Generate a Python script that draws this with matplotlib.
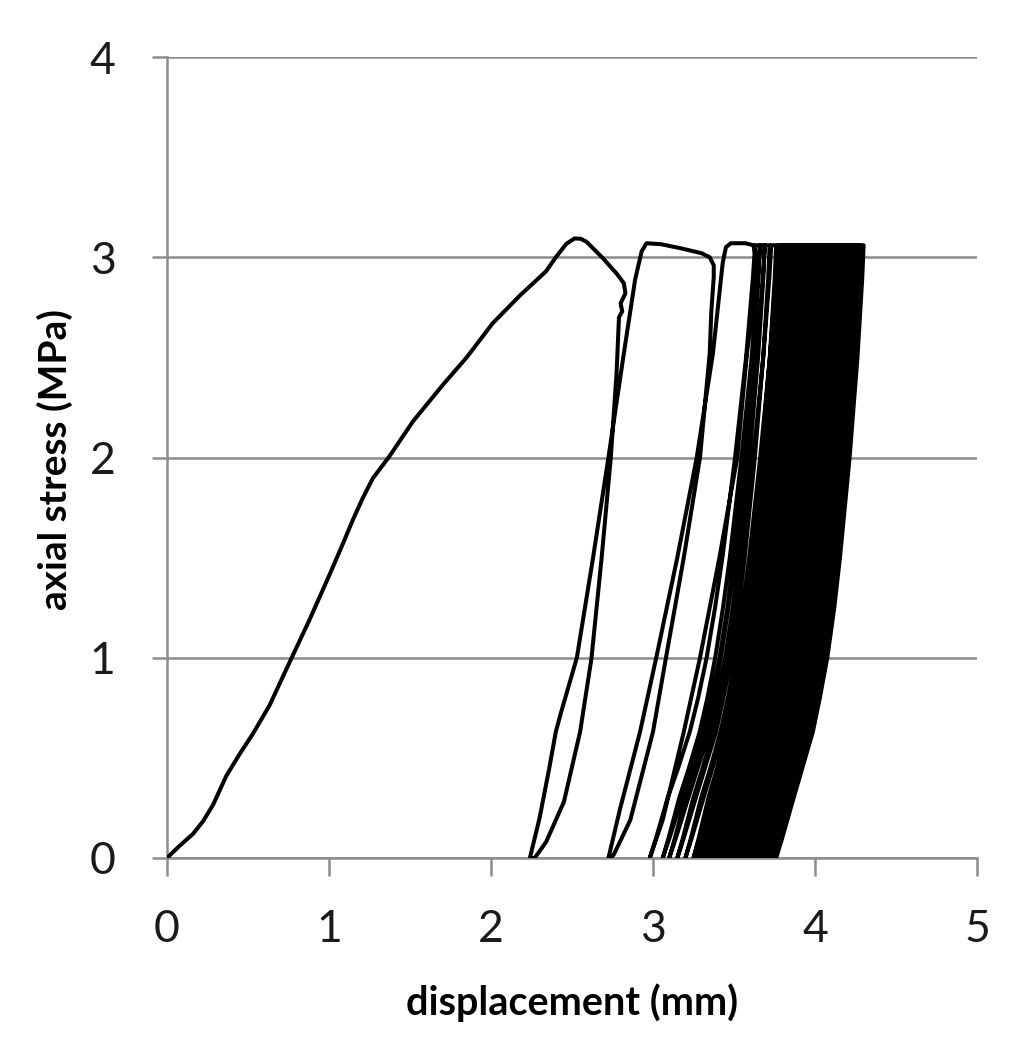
import numpy as np
import matplotlib
matplotlib.use('Agg')
import matplotlib.pyplot as plt

# virgin loading, first three unload/reload loops (displacement mm, stress MPa)
early_disp = [0.0, 0.078, 0.16, 0.222, 0.284, 0.366, 0.449, 0.53, 0.634, 0.757,
              0.88, 1.004, 1.086, 1.148, 1.21, 1.27, 1.374, 1.518, 1.70, 1.85,
              2.01, 2.18, 2.34, 2.40, 2.465, 2.516, 2.555, 2.59, 2.69, 2.78,
              2.82, 2.83, 2.80, 2.81,
              2.79, 2.775, 2.739, 2.683, 2.62, 2.55, 2.45, 2.34, 2.27,
              2.24, 2.30, 2.36, 2.40, 2.43, 2.53, 2.63, 2.725, 2.82, 2.89, 2.93, 2.96,
              3.05, 3.17, 3.30, 3.35, 3.375, 3.375,
              3.36, 3.35, 3.29, 3.19, 3.08, 3.0, 2.86, 2.76, 2.74,
              2.725, 2.795, 2.92, 3.02, 3.15, 3.27, 3.37, 3.43, 3.45, 3.48,
              3.57, 3.62, 3.635,
              3.63, 3.58, 3.52, 3.41, 3.29, 3.19, 3.06, 2.98]
early_stress = [0.0, 0.061, 0.12, 0.183, 0.265, 0.41, 0.52, 0.62, 0.764, 0.978,
                1.19, 1.416, 1.57, 1.69, 1.80, 1.895, 2.007, 2.18, 2.36, 2.50,
                2.67, 2.81, 2.93, 3.0, 3.067, 3.094, 3.092, 3.077, 2.996, 2.914,
                2.87, 2.82, 2.77, 2.73,
                2.70, 2.42, 1.995, 1.5, 0.996, 0.63, 0.28, 0.08, 0.0,
                0.0, 0.2, 0.45, 0.63, 0.72, 1.0, 1.5, 2.0, 2.52, 2.89, 3.03, 3.07,
                3.065, 3.045, 3.02, 3.0, 2.96, 2.9,
                2.73, 2.52, 2.0, 1.5, 1.0, 0.63, 0.19, 0.02, 0.0,
                0.0, 0.24, 0.63, 1.0, 1.5, 2.0, 2.52, 2.97, 3.05, 3.07,
                3.07, 3.06, 3.0,
                2.83, 2.52, 2.0, 1.5, 1.0, 0.63, 0.19, 0.0]

# later cycles: peak displacement and residual displacement of each cycle
cycle_peak = [3.63, 3.66, 3.69, 3.72, 3.76,
              3.80, 3.82, 3.84, 3.86, 3.88, 3.90, 3.92, 3.94, 3.96, 3.98,
              4.00, 4.02, 4.04, 4.06, 4.08, 4.10, 4.12, 4.14, 4.16, 4.18,
              4.20, 4.22, 4.24, 4.26, 4.28, 4.30]
cycle_residual = [2.98, 3.06, 3.10, 3.15, 3.20,
                  3.25, 3.27, 3.29, 3.31, 3.33, 3.35, 3.37, 3.39, 3.41, 3.43,
                  3.45, 3.47, 3.49, 3.51, 3.53, 3.55, 3.57, 3.59, 3.61, 3.63,
                  3.65, 3.67, 3.69, 3.71, 3.735, 3.76]

# shape of one cycle: stress levels and position between residual and peak
shape_stress = [0.0, 0.1, 0.3, 0.45, 0.63, 0.8, 1.0, 1.25, 1.5, 2.0, 2.5, 2.9, 3.06]
unload_frac = [0.0, 0.07, 0.2, 0.30, 0.42, 0.50, 0.585, 0.665, 0.73, 0.84, 0.93, 0.985, 1.0]
reload_frac = [0.0, 0.06, 0.17, 0.27, 0.38, 0.46, 0.54, 0.62, 0.69, 0.81, 0.915, 0.98, 1.0]
plateau = 0.03

xs = list(early_disp)
ys = list(early_stress)
st = np.array(shape_stress)
for k in range(1, len(cycle_peak)):
    r0 = cycle_residual[k - 1]
    top_left = cycle_peak[k] - plateau
    xs += list(r0 + np.array(reload_frac) * (top_left - r0))
    ys += list(st)
    r1 = cycle_residual[k]
    xs += list(r1 + np.array(unload_frac[::-1]) * (cycle_peak[k] - r1))
    ys += list(st[::-1])

grid_col = '#8c8c8c'

fig = plt.figure(figsize=(10.24, 10.49), dpi=100)
ax = fig.add_axes([167 / 1024, 1 - 858 / 1049, 810 / 1024, 801 / 1049])

ax.plot(xs, ys, color='black', lw=2.9, solid_joinstyle='round', zorder=3)

ax.set_xlim(0, 5)
ax.set_ylim(0, 4)
ax.set_xticks([0, 1, 2, 3, 4, 5])
ax.set_yticks([0, 1, 2, 3, 4])
ax.yaxis.grid(True, color=grid_col, lw=1.8)
ax.set_axisbelow(True)
for s in ['top', 'right']:
    ax.spines[s].set_visible(False)
for s in ['left', 'bottom']:
    ax.spines[s].set_color(grid_col)
    ax.spines[s].set_linewidth(1.8)

ax.tick_params(axis='x', direction='out', length=13, width=1.8, color=grid_col,
               pad=24, labelsize=32, labelcolor='#1a1a1a')
ax.tick_params(axis='y', direction='out', length=11, width=1.8, color=grid_col,
               pad=26, labelsize=32, labelcolor='#1a1a1a')
for lab in ax.get_xticklabels() + ax.get_yticklabels():
    lab.set_fontfamily('Lato')

# axis titles placed in figure pixels
fig.text(572 / 1024, 1 - 1003 / 1049, 'displacement (mm)', fontsize=28.5,
         fontweight='bold', family='Lato', ha='center', va='center')
fig.text(55 / 1024, 1 - 459 / 1049, 'axial stress (MPa)', fontsize=28,
         fontweight='bold', family='Lato', ha='center', va='center', rotation=90)

fig.savefig('out.png', dpi=100)
